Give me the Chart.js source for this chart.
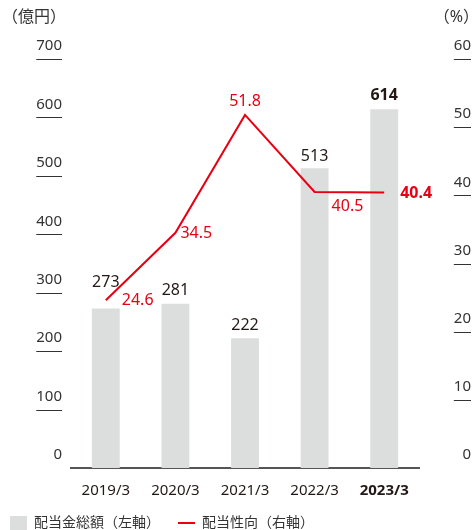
<!DOCTYPE html>
<html>
<head>
<meta charset="utf-8">
<script src="https://cdn.jsdelivr.net/npm/chart.js@4.4.0/dist/chart.umd.min.js"></script>
<style>
  html, body { margin: 0; padding: 0; background: #fff; }
</style>
</head>
<body>
<canvas id="chart" width="474" height="530"></canvas>
<script>
const years = ['2019/3', '2020/3', '2021/3', '2022/3', '2023/3'];
const dividendTotal = [273, 281, 222, 513, 614];
const payoutRatio = [24.6, 34.5, 51.8, 40.5, 40.4];
const leftTicks = [0, 100, 200, 300, 400, 500, 600, 700];
const rightTicks = [0, 10, 20, 30, 40, 50, 60];
const seriesNames = ['配当金総額（左軸）', '配当性向（右軸）'];
const axisUnits = ['（億円）', '（%）'];

const RED = '#e60012';
const GREY = '#dcdddd';
const INK = '#231815';
const FONT = "'Noto Sans', 'Noto Sans CJK JP', sans-serif";

// label placement tweaks (how far above the bar / where next to the point)
const barLabelLift = [26, 13, 13, 12, 14];
const lineLabelPos = [
  { dx: 16, dy: 0, align: 'left' },
  { dx: 5, dy: 1, align: 'left' },
  { dx: 0, dy: -13, align: 'center' },
  { dx: 17, dy: 15, align: 'left' },
  { dx: 16, dy: 1, align: 'left' },
];

const last = years.length - 1;

const annotate = {
  id: 'annotate',
  afterDraw(chart) {
    const { ctx, scales } = chart;
    const yL = scales.y;
    const yR = scales.y1;
    ctx.save();
    ctx.textBaseline = 'middle';

    // axis units
    ctx.font = `16px ${FONT}`;
    ctx.fillStyle = '#333';
    ctx.textAlign = 'left';
    ctx.fillText(axisUnits[0], 2, 17);
    ctx.textAlign = 'right';
    ctx.fillText(axisUnits[1], 479, 17);

    // y tick labels with short underline
    ctx.font = `15px ${FONT}`;
    ctx.strokeStyle = '#333';
    ctx.lineWidth = 1;
    const drawTicks = (ticks, scale, right) => {
      ticks.forEach(v => {
        const py = scale.getPixelForValue(v);
        const txt = String(v);
        const w = ctx.measureText(txt).width;
        ctx.textAlign = 'right';
        ctx.fillText(txt, right, py - 13);
        if (v !== 0) {
          ctx.beginPath();
          ctx.moveTo(right - w, Math.round(py) + 0.5);
          ctx.lineTo(right, Math.round(py) + 0.5);
          ctx.stroke();
        }
      });
    };
    drawTicks(leftTicks, yL, 62);
    drawTicks(rightTicks, yR, 471);

    // bar values
    const bars = chart.getDatasetMeta(0).data;
    ctx.textAlign = 'center';
    ctx.fillStyle = INK;
    bars.forEach((bar, i) => {
      ctx.font = `${i === last ? 'bold ' : ''}16px ${FONT}`;
      ctx.fillText(String(dividendTotal[i]), bar.x, bar.y - barLabelLift[i]);
    });

    // ratio values
    const pts = chart.getDatasetMeta(1).data;
    ctx.fillStyle = RED;
    pts.forEach((pt, i) => {
      const p = lineLabelPos[i];
      ctx.font = `${i === last ? 'bold ' : ''}16px ${FONT}`;
      ctx.textAlign = p.align;
      ctx.fillText(payoutRatio[i].toFixed(1), pt.x + p.dx, pt.y + p.dy);
    });
    ctx.restore();
  }
};

new Chart(document.getElementById('chart'), {
  type: 'bar',
  data: {
    labels: years,
    datasets: [
      {
        type: 'bar',
        label: seriesNames[0],
        data: dividendTotal,
        backgroundColor: GREY,
        yAxisID: 'y',
        barPercentage: 0.4,
        categoryPercentage: 1,
        order: 2,
        pointStyle: 'rect',
      },
      {
        type: 'line',
        label: seriesNames[1],
        data: payoutRatio,
        borderColor: RED,
        backgroundColor: RED,
        borderWidth: 2,
        pointRadius: 0,
        tension: 0,
        yAxisID: 'y1',
        order: 1,
        pointStyle: 'line',
      },
    ],
  },
  options: {
    responsive: false,
    animation: false,
    layout: { padding: { left: -8, right: 0, top: 59, bottom: -10 } },
    plugins: {
      tooltip: { enabled: false },
      legend: {
        position: 'bottom',
        align: 'start',
        labels: {
          usePointStyle: true,
          pointStyleWidth: 17,
          boxHeight: 18,
          padding: 18,
          color: '#333',
          font: { family: FONT, size: 14 },
          sort: (a, b) => a.datasetIndex - b.datasetIndex,
        },
      },
    },
    scales: {
      x: {
        grid: { display: false, drawTicks: false },
        border: { color: '#555', width: 2 },
        ticks: {
          padding: 14,
          color: INK,
          font: ctx => ({ family: FONT, size: 15, weight: ctx.index === last ? 'bold' : 'normal' }),
        },
        afterFit: s => { s.height = 30; },
      },
      y: {
        position: 'left',
        min: 0,
        max: 700,
        grid: { display: false },
        border: { display: false },
        ticks: { display: false },
        afterFit: s => { s.width = 79; },
      },
      y1: {
        position: 'right',
        min: 0,
        max: 60,
        grid: { display: false },
        border: { display: false },
        ticks: { display: false },
        afterFit: s => { s.width = 55; },
      },
    },
  },
  plugins: [annotate],
});
</script>
</body>
</html>
